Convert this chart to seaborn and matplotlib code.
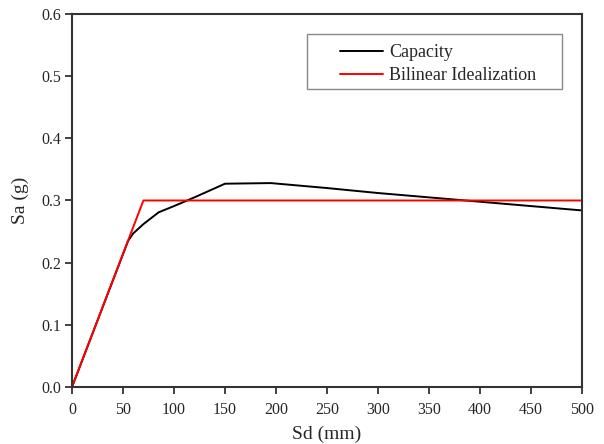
import numpy as np
import pandas as pd
import matplotlib
matplotlib.use("Agg")
import matplotlib.pyplot as plt
from matplotlib.patches import Rectangle
import seaborn as sns

# capacity curve
cap_sd = [0, 55, 60, 70, 85, 100, 120, 150, 195, 250, 300, 350, 400, 450, 500]
cap_sa = [0, 0.235, 0.247, 0.262, 0.281, 0.291, 0.305, 0.327, 0.328, 0.320, 0.312, 0.305, 0.298, 0.291, 0.284]

# bilinear idealization
bil_sd = [0, 70, 500]
bil_sa = [0, 0.300, 0.300]

sns.set_theme(style="white")
plt.rcParams["font.family"] = ["Liberation Serif", "DejaVu Serif"]

cap = pd.DataFrame({"Sd": cap_sd, "Sa": cap_sa})
bil = pd.DataFrame({"Sd": bil_sd, "Sa": bil_sa})

fig = plt.figure(figsize=(6.04, 4.44), dpi=100)
ax = fig.add_axes([0.1192, 0.1284, 0.8444, 0.8401])

sns.lineplot(data=cap, x="Sd", y="Sa", color="black", lw=1.4, label="Capacity", ax=ax, sort=False)
sns.lineplot(data=bil, x="Sd", y="Sa", color="red", lw=1.4, label="Bilinear Idealization", ax=ax, sort=False)

ax.set_xlim(0, 500)
ax.set_ylim(0, 0.6)
ax.set_xticks(np.arange(0, 501, 50))
ax.set_yticks(np.arange(0, 0.61, 0.1))
ax.set_yticklabels([f"{v:.1f}" for v in np.arange(0, 0.61, 0.1)])
ax.set_xlabel("Sd (mm)", fontsize=14, labelpad=5)
ax.set_ylabel("Sa (g)", fontsize=14, labelpad=9)
ax.tick_params(axis="both", labelsize=11.5, length=5, width=1.3, direction="out",
               color="#333333", bottom=True, left=True)
ax.tick_params(axis="x", pad=6)
ax.tick_params(axis="y", pad=3)
for s in ax.spines.values():
    s.set_color("#333333")
    s.set_linewidth(1.5)

# legend box drawn by hand so the padding matches
ax.add_patch(Rectangle((0.4614, 0.7981), 0.5, 0.1475, transform=ax.transAxes,
                       facecolor="white", edgecolor="#888888", lw=1.0, zorder=5))
leg = ax.legend(loc="upper left", bbox_to_anchor=(0.5255, 0.92), fontsize=13,
                frameon=False, handlelength=2.4, handletextpad=0.3,
                borderpad=0, labelspacing=0.35, borderaxespad=0)
leg.set_zorder(6)

fig.savefig("out.png", dpi=100)
